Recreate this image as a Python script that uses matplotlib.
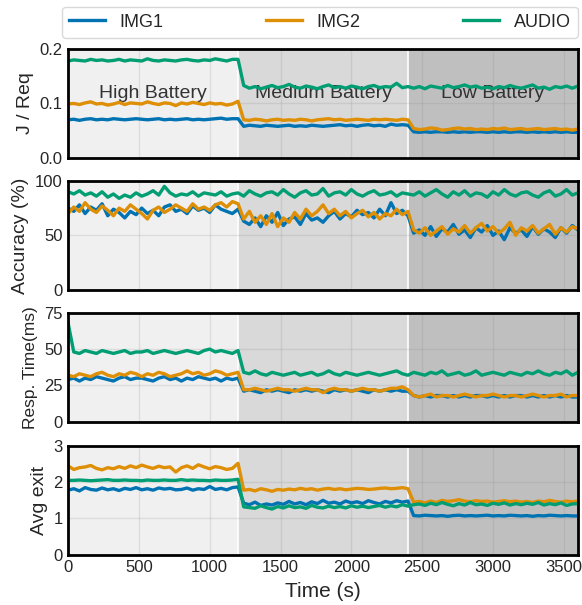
import numpy as np
import matplotlib.pyplot as plt

# ===================
# DATA (sampled every 40 s, 0..3600)
# ===================
series_names = ["IMG1", "IMG2", "AUDIO"]
region_names = ["High Battery", "Medium Battery", "Low Battery"]
region_bounds = [0, 1200, 2400, 3600]

jreq_img1 = [0.070, 0.071, 0.069, 0.071, 0.072, 0.070, 0.071, 0.070, 0.072, 0.071,
             0.070, 0.071, 0.072, 0.071, 0.070, 0.071, 0.072, 0.070, 0.071, 0.070,
             0.071, 0.072, 0.070, 0.071, 0.070, 0.071, 0.072, 0.073, 0.071, 0.072, 0.072,
             0.058, 0.060, 0.059, 0.058, 0.060, 0.059, 0.058, 0.059, 0.060, 0.058,
             0.059, 0.058, 0.060, 0.059, 0.058, 0.059, 0.060, 0.061, 0.059, 0.060,
             0.058, 0.060, 0.061, 0.059, 0.060, 0.058, 0.062, 0.060, 0.061, 0.060,
             0.048, 0.047, 0.048, 0.047, 0.048, 0.048, 0.047, 0.048, 0.047, 0.048,
             0.047, 0.048, 0.048, 0.047, 0.048, 0.047, 0.048, 0.047, 0.048, 0.048,
             0.047, 0.048, 0.047, 0.048, 0.047, 0.048, 0.047, 0.048, 0.047, 0.047]
jreq_img2 = [0.099, 0.100, 0.098, 0.101, 0.103, 0.099, 0.100, 0.097, 0.099, 0.102,
             0.098, 0.101, 0.100, 0.099, 0.103, 0.100, 0.098, 0.101, 0.100, 0.096,
             0.101, 0.099, 0.102, 0.100, 0.098, 0.101, 0.099, 0.100, 0.097, 0.099, 0.104,
             0.070, 0.069, 0.071, 0.070, 0.068, 0.070, 0.071, 0.069, 0.070, 0.069,
             0.071, 0.070, 0.068, 0.070, 0.071, 0.072, 0.070, 0.071, 0.069, 0.070,
             0.071, 0.070, 0.069, 0.071, 0.070, 0.071, 0.070, 0.069, 0.071, 0.070,
             0.054, 0.052, 0.053, 0.055, 0.054, 0.051, 0.052, 0.054, 0.055, 0.053,
             0.054, 0.052, 0.053, 0.052, 0.054, 0.053, 0.055, 0.052, 0.053, 0.054,
             0.052, 0.053, 0.054, 0.052, 0.053, 0.054, 0.052, 0.053, 0.051, 0.053]
jreq_audio = [0.178, 0.180, 0.179, 0.178, 0.181, 0.179, 0.180, 0.178, 0.179, 0.181,
              0.178, 0.180, 0.179, 0.178, 0.182, 0.179, 0.178, 0.180, 0.179, 0.178,
              0.180, 0.181, 0.179, 0.178, 0.180, 0.179, 0.182, 0.180, 0.178, 0.181, 0.181,
              0.133, 0.128, 0.131, 0.127, 0.130, 0.133, 0.129, 0.131, 0.135, 0.130,
              0.128, 0.132, 0.130, 0.127, 0.131, 0.134, 0.129, 0.131, 0.128, 0.132,
              0.130, 0.127, 0.131, 0.133, 0.129, 0.131, 0.130, 0.137, 0.129, 0.131,
              0.128, 0.131, 0.127, 0.132, 0.130, 0.128, 0.133, 0.129, 0.131, 0.134,
              0.130, 0.132, 0.128, 0.130, 0.127, 0.131, 0.129, 0.133, 0.130, 0.128,
              0.131, 0.134, 0.128, 0.130, 0.126, 0.131, 0.129, 0.132, 0.128, 0.132]

acc_img1 = [75, 72, 78, 70, 76, 73, 79, 68, 74, 71,
            66, 72, 69, 75, 70, 73, 68, 76, 78, 72,
            74, 70, 77, 73, 75, 71, 78, 74, 72, 70, 74,
            63, 60, 66, 58, 68, 62, 71, 59, 65, 67,
            60, 70, 64, 66, 62, 68, 72, 65, 70, 67,
            73, 69, 71, 66, 74, 68, 80, 70, 73, 68,
            52, 55, 50, 58, 49, 56, 53, 60, 51, 55,
            48, 57, 53, 59, 50, 54, 46, 57, 52, 55,
            49, 58, 51, 56, 53, 48, 57, 52, 59, 55]
acc_img2 = [70, 76, 72, 80, 74, 71, 77, 73, 68, 75,
            72, 78, 74, 70, 65, 73, 76, 71, 74, 78,
            75, 72, 79, 74, 76, 73, 78, 80, 76, 81, 79,
            65, 72, 62, 68, 60, 70, 58, 66, 62, 71,
            65, 74, 68, 72, 78, 70, 74, 68, 72, 66,
            70, 73, 67, 71, 65, 70, 68, 74, 69, 72,
            55, 52, 57, 50, 54, 58, 51, 56, 53, 59,
            52, 57, 61, 54, 58, 52, 56, 62, 50, 57,
            54, 59, 52, 56, 60, 51, 57, 53, 58, 56]
acc_audio = [90, 88, 91, 87, 89, 86, 90, 85, 88, 84,
             87, 85, 89, 86, 88, 91, 87, 95, 89, 86,
             88, 87, 90, 86, 89, 88, 87, 90, 86, 88, 89,
             86, 91, 88, 86, 89, 90, 87, 92, 88, 85,
             89, 91, 87, 88, 93, 86, 89, 90, 87, 92,
             88, 86, 89, 91, 87, 88, 90, 86, 89, 88,
             87, 90, 86, 89, 92, 88, 85, 90, 87, 91,
             86, 89, 88, 85, 90, 87, 92, 88, 86, 89,
             90, 87, 85, 89, 91, 86, 88, 92, 87, 89]

resp_img1 = [29, 30, 28, 30, 29, 31, 30, 29, 28, 30,
             31, 29, 30, 30, 29, 28, 30, 31, 29, 30,
             28, 30, 29, 31, 30, 29, 30, 28, 30, 29, 30,
             21, 22, 21, 20, 22, 21, 22, 21, 20, 22,
             21, 22, 21, 22, 21, 20, 22, 21, 22, 21,
             22, 21, 20, 22, 21, 22, 21, 22, 21, 21,
             18, 17, 18, 17, 18, 18, 17, 18, 17, 18,
             17, 18, 18, 17, 18, 17, 18, 17, 18, 18,
             17, 18, 17, 18, 17, 18, 17, 18, 17, 17]
resp_img2 = [32, 31, 33, 32, 31, 33, 34, 32, 31, 33,
             32, 34, 33, 31, 33, 32, 34, 33, 31, 32,
             33, 35, 33, 34, 32, 33, 35, 34, 32, 33, 34,
             22, 22, 23, 22, 21, 22, 23, 22, 22, 21,
             22, 23, 22, 22, 20, 22, 23, 22, 22, 21,
             22, 23, 22, 22, 21, 22, 23, 23, 24, 22,
             18, 17, 18, 19, 17, 18, 18, 17, 18, 19,
             18, 17, 18, 18, 19, 18, 17, 18, 18, 17,
             18, 19, 18, 17, 18, 18, 19, 17, 18, 18]
resp_audio = [68, 48, 47, 49, 48, 47, 49, 48, 47, 48,
              49, 47, 48, 48, 49, 47, 48, 49, 48, 47,
              48, 49, 48, 47, 49, 50, 48, 49, 48, 47, 49,
              34, 33, 35, 33, 32, 34, 33, 32, 33, 34,
              32, 33, 34, 32, 33, 35, 33, 32, 34, 33,
              32, 33, 34, 33, 32, 33, 34, 35, 33, 32,
              34, 33, 32, 34, 33, 35, 32, 33, 34, 32,
              33, 35, 32, 33, 34, 33, 32, 34, 33, 32,
              34, 33, 35, 33, 32, 34, 33, 35, 32, 34]

exit_img1 = [1.78, 1.82, 1.76, 1.85, 1.80, 1.78, 1.84, 1.79, 1.82, 1.77,
             1.83, 1.80, 1.85, 1.79, 1.82, 1.78, 1.84, 1.81, 1.83, 1.79,
             1.80, 1.84, 1.78, 1.82, 1.80, 1.88, 1.80, 1.83, 1.79, 1.85, 1.87,
             1.42, 1.38, 1.45, 1.36, 1.40, 1.37, 1.43, 1.39, 1.47, 1.40,
             1.44, 1.38, 1.46, 1.41, 1.50, 1.42, 1.45, 1.40, 1.48, 1.43,
             1.46, 1.41, 1.49, 1.44, 1.40, 1.47, 1.43, 1.49, 1.45, 1.48,
             1.08, 1.07, 1.09, 1.08, 1.07, 1.08, 1.06, 1.08, 1.09, 1.07,
             1.08, 1.07, 1.08, 1.09, 1.07, 1.08, 1.07, 1.09, 1.08, 1.07,
             1.08, 1.06, 1.08, 1.07, 1.09, 1.08, 1.07, 1.08, 1.07, 1.07]
exit_img2 = [2.45, 2.35, 2.40, 2.42, 2.46, 2.38, 2.34, 2.40, 2.37, 2.43,
             2.38, 2.45, 2.40, 2.47, 2.42, 2.38, 2.44, 2.40, 2.42, 2.28,
             2.40, 2.45, 2.38, 2.48, 2.42, 2.37, 2.43, 2.40, 2.35, 2.38, 2.52,
             1.78, 1.80, 1.76, 1.82, 1.79, 1.75, 1.80, 1.78, 1.81, 1.79,
             1.83, 1.80, 1.82, 1.78, 1.81, 1.83, 1.80, 1.82, 1.79, 1.81,
             1.83, 1.82, 1.80, 1.81, 1.83, 1.84, 1.82, 1.83, 1.85, 1.82,
             1.45, 1.47, 1.43, 1.48, 1.44, 1.50, 1.47, 1.49, 1.52, 1.48,
             1.46, 1.49, 1.47, 1.48, 1.45, 1.47, 1.49, 1.46, 1.48, 1.45,
             1.47, 1.44, 1.48, 1.46, 1.50, 1.47, 1.45, 1.48, 1.46, 1.48]
exit_audio = [2.05, 2.05, 2.06, 2.05, 2.04, 2.05, 2.06, 2.07, 2.05, 2.05,
              2.06, 2.05, 2.05, 2.04, 2.06, 2.05, 2.05, 2.06, 2.05, 2.05,
              2.07, 2.05, 2.06, 2.05, 2.05, 2.04, 2.06, 2.05, 2.05, 2.06, 2.08,
              1.32, 1.30, 1.28, 1.35, 1.30, 1.26, 1.33, 1.29, 1.35, 1.30,
              1.32, 1.28, 1.36, 1.31, 1.29, 1.34, 1.30, 1.33, 1.29, 1.35,
              1.31, 1.34, 1.30, 1.33, 1.36, 1.31, 1.35, 1.32, 1.38, 1.34,
              1.38, 1.40, 1.36, 1.42, 1.38, 1.44, 1.39, 1.35, 1.41, 1.37,
              1.44, 1.38, 1.40, 1.36, 1.42, 1.39, 1.43, 1.37, 1.41, 1.38,
              1.42, 1.39, 1.44, 1.37, 1.41, 1.38, 1.43, 1.36, 1.40, 1.41]

panel_labels = ["J / Req", "Accuracy (%)", "Resp. Time(ms)", "Avg exit"]
panel_data = [
    (jreq_img1, jreq_img2, jreq_audio),
    (acc_img1, acc_img2, acc_audio),
    (resp_img1, resp_img2, resp_audio),
    (exit_img1, exit_img2, exit_audio),
]
panel_ylim = [(0, 0.2), (0, 100), (0, 75), (0, 3)]
panel_yticks = [[0.0, 0.1, 0.2], [0, 50, 100], [0, 25, 50, 75], [0, 1, 2, 3]]
panel_yticklabels = [["0.0", "0.1", "0.2"], ["0", "50", "100"],
                     ["0", "25", "50", "75"], ["0", "1", "2", "3"]]
xticks = [0, 500, 1000, 1500, 2000, 2500, 3000, 3500]

# ============
# STYLE
# ============
COLORS = ["#0173B2", "#DE8F05", "#029E73"]
REGION_COLORS = ["#f0f0f0", "#d9d9d9", "#bfbfbf"]
TEXT_COLOR = "#262626"
LABEL_SIZES = [14, 14, 12.5, 14]

plt.rcParams['font.family'] = ['Liberation Sans', 'DejaVu Sans']
plt.rcParams['text.color'] = TEXT_COLOR
plt.rcParams['xtick.color'] = TEXT_COLOR
plt.rcParams['ytick.color'] = TEXT_COLOR
plt.rcParams['axes.labelcolor'] = TEXT_COLOR

fig = plt.figure(figsize=(5.82, 6.05), dpi=100)

left, right = 0.117, 0.993
tops = [0.919, 0.701, 0.483, 0.263]
height = 0.180

axes = []
for i in range(4):
    ax = fig.add_axes([left, tops[i] - height, right - left, height])
    axes.append(ax)
    for k in range(3):
        ax.axvspan(region_bounds[k], region_bounds[k + 1], color=REGION_COLORS[k],
                   linewidth=0, zorder=0)
    for xb in region_bounds[1:3]:
        ax.axvline(xb, color="white", linewidth=1.2, zorder=0.3)
    ax.set_axisbelow(True)
    ax.grid(True, color="#8c8c8c", alpha=0.2, linewidth=1.0)

    for y, c, name in zip(panel_data[i], COLORS, series_names):
        t = np.linspace(0, 3600, len(y))
        ax.plot(t, y, color=c, linewidth=2.4, label=name, zorder=2)

    ax.set_xlim(0, 3600)
    ax.set_ylim(*panel_ylim[i])
    ax.set_yticks(panel_yticks[i])
    ax.set_yticklabels(panel_yticklabels[i])
    ax.set_xticks(xticks)
    ax.tick_params(length=0, labelsize=12, pad=4)
    if i < 3:
        ax.set_xticklabels([])
    ax.set_ylabel(panel_labels[i], fontsize=LABEL_SIZES[i])
    for s in ax.spines.values():
        s.set_color("black")
        s.set_linewidth(2.0)

for k, name in enumerate(region_names):
    axes[0].text((region_bounds[k] + region_bounds[k + 1]) / 2, 0.119, name,
                 ha="center", va="center", fontsize=14, color="#333333", zorder=1.5)

axes[3].set_xlabel("Time (s)", fontsize=15, labelpad=5)
fig.align_ylabels(axes)

handles, labels = axes[0].get_legend_handles_labels()
fig.legend(handles, labels, loc="lower left", ncol=3, mode="expand",
           bbox_to_anchor=(62 / 582, 1 - 38 / 605, (578 - 62) / 582, 34 / 605),
           fontsize=13, frameon=True, edgecolor="#d0d0d0", borderaxespad=0,
           handlelength=2.0)

fig.savefig("out.png", dpi=100)
